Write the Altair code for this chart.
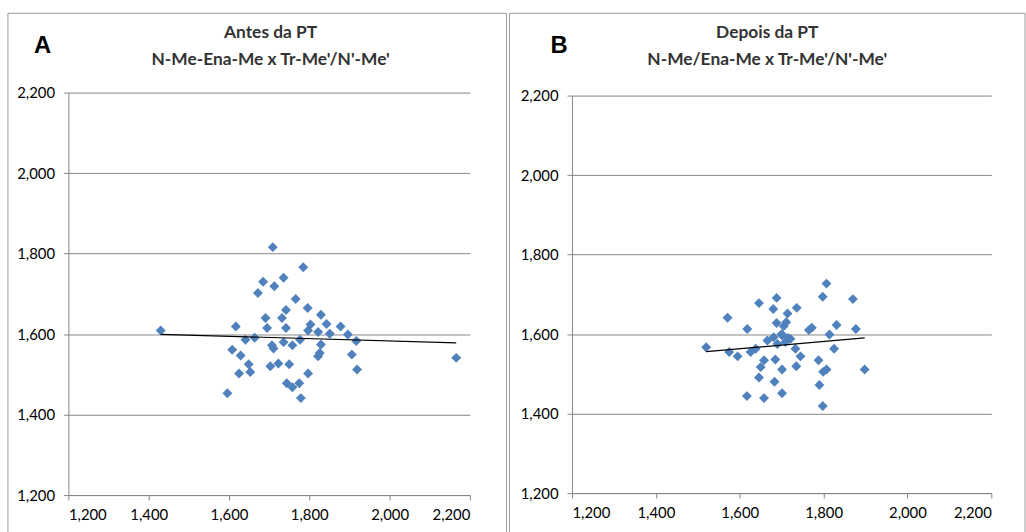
import altair as alt
import pandas as pd

# ---- data ----
A_x = [1430, 1709, 1785, 1736, 1685, 1713, 1672, 1766, 1796, 1829,
       1742, 1732, 1691, 1617, 1695, 1742, 1803, 1843, 1797, 1822,
       1851, 1641, 1664, 1707, 1711, 1736, 1758, 1777, 1829, 1826,
       1822, 1608, 1629, 1649, 1653, 1625, 1703, 1723, 1750, 1797,
       1744, 1758, 1775, 1779, 1596, 1878, 1896, 1917, 1906, 1919,
       2166]
A_y = [1609, 1816, 1766, 1740, 1730, 1719, 1702, 1687, 1665, 1648,
       1660, 1640, 1640, 1619, 1615, 1615, 1624, 1625, 1609, 1605,
       1601, 1586, 1591, 1572, 1564, 1580, 1572, 1586, 1574, 1553,
       1545, 1561, 1547, 1525, 1506, 1502, 1520, 1527, 1525, 1502,
       1478, 1468, 1478, 1441, 1453, 1619, 1599, 1583, 1549, 1512,
       1541]
B_x = [1571, 1520, 1575, 1807, 1798, 1870, 1646, 1688, 1680, 1714,
       1736, 1618, 1688, 1711, 1772, 1765, 1831, 1877, 1814, 1666,
       1681, 1701, 1721, 1709, 1733, 1745, 1825, 1595, 1626, 1638,
       1658, 1685, 1650, 1788, 1701, 1735, 1799, 1807, 1898, 1646,
       1683, 1790, 1701, 1617, 1658, 1798, 1700, 1715, 1690, 1705]
B_y = [1641, 1567, 1555, 1727, 1694, 1688, 1678, 1691, 1663, 1652,
       1666, 1613, 1628, 1630, 1616, 1610, 1623, 1613, 1599, 1584,
       1592, 1597, 1588, 1580, 1563, 1544, 1563, 1544, 1555, 1563,
       1534, 1536, 1517, 1534, 1511, 1519, 1505, 1511, 1511, 1491,
       1480, 1472, 1451, 1444, 1439, 1419, 1600, 1590, 1575, 1620]

A_letter = "A"
B_letter = "B"
A_title = ["Antes da PT", "N-Me-Ena-Me x Tr-Me'/N'-Me'"]
B_title = ["Depois da PT", "N-Me/Ena-Me x Tr-Me'/N'-Me'"]
tick_values = [1200, 1400, 1600, 1800, 2000, 2200]
domain = [1200, 2200]

GRAY = "#868686"
BLUE = "#4F81BD"


def panel(xs, ys, letter, title, w, h, yrange, letter_x, title_x, frame_x, frame_w):
    df = pd.DataFrame({"x": xs, "y": ys})
    xsc = alt.Scale(domain=domain, nice=False, zero=False)
    ysc = alt.Scale(domain=domain, nice=False, zero=False, range=yrange)
    xax = alt.Axis(values=tick_values, format=",d", grid=False, title=None,
                   labelFont="Lato", labelFontSize=15, labelColor="#000000",
                   tickColor=GRAY, domainColor=GRAY, tickSize=5, labelPadding=8)
    yax = alt.Axis(values=tick_values, format=",d", grid=True, title=None,
                   labelFont="Lato", labelFontSize=15, labelColor="#000000",
                   tickColor=GRAY, domainColor=GRAY, gridColor=GRAY,
                   gridOpacity=1, tickSize=5, labelPadding=9)

    frame = alt.Chart(pd.DataFrame({"k": [0]})).mark_rect(
        fill="transparent", stroke="#9a9a9a", strokeWidth=1
    ).encode(
        x=alt.value(frame_x), x2=alt.value(frame_x + frame_w),
        y=alt.value(-80), y2=alt.value(460),
    )
    pts = alt.Chart(df).mark_point(
        shape="diamond", filled=True, size=100, color=BLUE, opacity=1
    ).encode(
        x=alt.X("x:Q", scale=xsc, axis=xax),
        y=alt.Y("y:Q", scale=ysc, axis=yax),
    )
    line = alt.Chart(df).transform_regression("x", "y").mark_line(
        color="black", strokeWidth=1.2
    ).encode(
        x=alt.X("x:Q", scale=xsc, axis=xax),
        y=alt.Y("y:Q", scale=ysc, axis=yax),
    )
    let = alt.Chart(pd.DataFrame({"t": [letter]})).mark_text(
        font="Liberation Sans", fontWeight="bold", fontSize=24,
        color="#000000", baseline="middle", align="center"
    ).encode(text="t:N", x=alt.value(letter_x), y=alt.value(-47))
    tdf = pd.DataFrame({"t": title, "row": [0, 1]})
    t1 = alt.Chart(tdf).transform_filter("datum.row == 0").mark_text(
        font="Lato", fontWeight="bold", fontSize=17.5, color="#333333",
        baseline="middle", align="center"
    ).encode(text="t:N", x=alt.value(title_x), y=alt.value(-60))
    t2 = alt.Chart(tdf).transform_filter("datum.row == 1").mark_text(
        font="Lato", fontWeight="bold", fontSize=17.5, color="#333333",
        baseline="middle", align="center"
    ).encode(text="t:N", x=alt.value(title_x), y=alt.value(-33))
    return alt.layer(frame, pts, line, let, t1, t2).properties(width=w, height=h)


pa = panel(A_x, A_y, A_letter, A_title, 405, 406, [406, 0], -26, 204, -61, 503)
pb = panel(B_x, B_y, B_letter, B_title, 423, 404, [404, 3], -13, 197, -63, 520)

chart = alt.hconcat(pa, pb, spacing=103, bounds="flush").properties(
    padding={"left": 7, "top": 10, "right": 0, "bottom": 0},
    background="white",
).configure_view(strokeWidth=0)

chart.save("out.html", embed_options={"renderer": "svg", "actions": False})
